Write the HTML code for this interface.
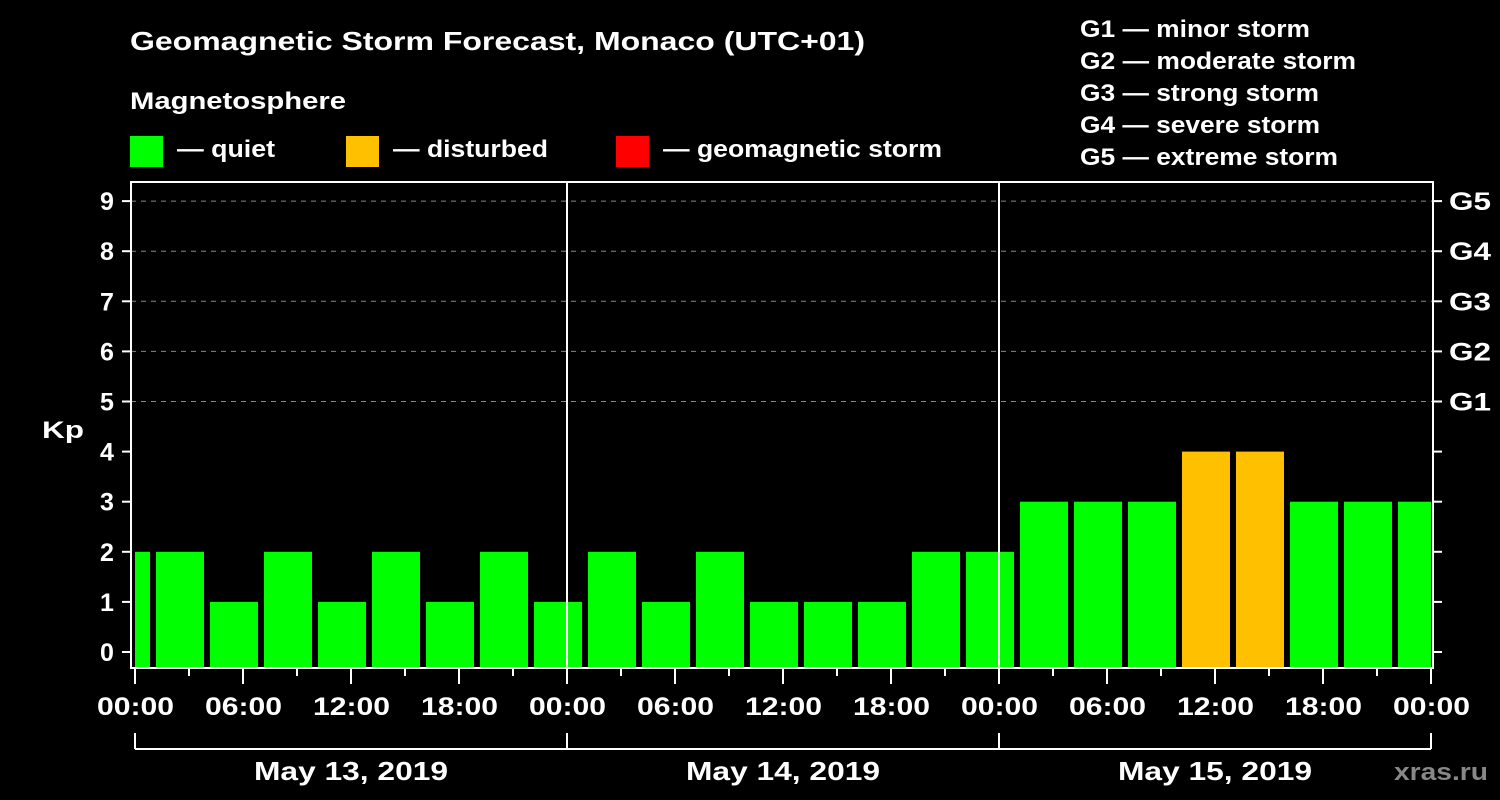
<!DOCTYPE html>
<html><head><meta charset="utf-8">
<style>
html,body{margin:0;padding:0;background:#000;}
svg{display:block;font-family:"Liberation Sans",sans-serif;font-weight:bold;}
</style></head>
<body>
<svg id="c" width="1500" height="800" viewBox="0 0 1500 800">
<rect x="0" y="0" width="1500" height="800" fill="#000"/>
<text x="130" y="50" fill="#fff" font-size="26" textLength="735" lengthAdjust="spacingAndGlyphs">Geomagnetic Storm Forecast, Monaco (UTC+01)</text>
<text x="130" y="109" fill="#fff" font-size="24" textLength="216" lengthAdjust="spacingAndGlyphs">Magnetosphere</text>
<g><rect x="130" y="136" width="33" height="31" fill="#00ff00"/><text x="177" y="157" fill="#fff" font-size="24" textLength="98" lengthAdjust="spacingAndGlyphs">— quiet</text></g>
<g><rect x="346" y="136" width="33" height="31" fill="#ffc000"/><text x="393" y="157" fill="#fff" font-size="24" textLength="155" lengthAdjust="spacingAndGlyphs">— disturbed</text></g>
<g><rect x="616" y="136" width="33" height="31" fill="#ff0000"/><text x="663" y="157" fill="#fff" font-size="24" textLength="279" lengthAdjust="spacingAndGlyphs">— geomagnetic storm</text></g>
<g fill="#fff" font-size="24">
<text x="1080" y="37" textLength="230" lengthAdjust="spacingAndGlyphs">G1 — minor storm</text>
<text x="1080" y="69" textLength="276" lengthAdjust="spacingAndGlyphs">G2 — moderate storm</text>
<text x="1080" y="101" textLength="239" lengthAdjust="spacingAndGlyphs">G3 — strong storm</text>
<text x="1080" y="133" textLength="240" lengthAdjust="spacingAndGlyphs">G4 — severe storm</text>
<text x="1080" y="165" textLength="258" lengthAdjust="spacingAndGlyphs">G5 — extreme storm</text>
</g>
<text x="42" y="438" fill="#fff" font-size="24" textLength="42" lengthAdjust="spacingAndGlyphs">Kp</text>
<text x="1394" y="780" fill="#888" font-size="24" textLength="94" lengthAdjust="spacingAndGlyphs">xras.ru</text>
<g id="plot"></g>
</svg>
<script>
const kpValues = [2,2,1,2,1,2,1,2,1, 2,1,2,1,1,1,2,2, 3,3,3,4,4,3,3,3];
const firstBarStartHour = -2;
const barHours = 3;
const kpTicks = [0,1,2,3,4,5,6,7,8,9];
const gLabels = ["G1","G2","G3","G4","G5"];
const timeLabels = ["00:00","06:00","12:00","18:00","00:00","06:00","12:00","18:00","00:00","06:00","12:00","18:00","00:00"];
const dayLabels = ["May 13, 2019","May 14, 2019","May 15, 2019"];

const NS = "http://www.w3.org/2000/svg";
const plot = document.getElementById("plot");
const X0 = 135, PXH = 18, Y0 = 652, PXK = 50.1;
const pleft = 131, pright = 1433, ptop = 182, pbottom = 668;
const xh = h => X0 + h * PXH;
const yk = k => Y0 - k * PXK;
function mk(tag, attrs, parent) {
  const e = document.createElementNS(NS, tag);
  for (const k in attrs) e.setAttribute(k, attrs[k]);
  (parent || plot).appendChild(e);
  return e;
}
const defs = mk("defs", {});
const cp = mk("clipPath", {id: "pc"}, defs);
mk("rect", {x: X0, y: ptop, width: xh(72) - X0, height: pbottom - ptop}, cp);
for (let k = 5; k <= 9; k++) {
  const g = mk("line", {x1: pleft, x2: pright, y1: yk(k), y2: yk(k), stroke: "#888", "stroke-width": 1, "stroke-dasharray": "5,5"});
  
  
}
const bg = mk("g", {"clip-path": "url(#pc)"});
kpValues.forEach((v, i) => {
  const s = firstBarStartHour + i * barHours;
  const x = xh(s) + 3, w = barHours * PXH - 6;
  const r = mk("rect", {x: x, y: yk(v), width: w, height: pbottom - yk(v), fill: v >= 5 ? "#ff0000" : (v >= 4 ? "#ffc000" : "#00ff00")}, bg);
  
  
});
for (let d = 1; d < dayLabels.length; d++) {
  mk("line", {x1: xh(24 * d), x2: xh(24 * d), y1: ptop, y2: pbottom, stroke: "#fff", "stroke-width": 2});
}
const fr = mk("rect", {x: pleft, y: ptop, width: pright - pleft, height: pbottom - ptop, fill: "none", stroke: "#fff", "stroke-width": 2});


kpTicks.forEach(k => {
  mk("line", {x1: 122, x2: pleft, y1: yk(k), y2: yk(k), stroke: "#fff", "stroke-width": 2});
  mk("line", {x1: pright, x2: 1442, y1: yk(k), y2: yk(k), stroke: "#fff", "stroke-width": 2});
  const t = mk("text", {x: 107, y: yk(k) + 9, fill: "#fff", "font-size": 25, "text-anchor": "middle"});
  t.textContent = k;
  
  
});
gLabels.forEach((g, i) => {
  const t = mk("text", {x: 1449, y: yk(5 + i) + 9, fill: "#fff", "font-size": 25, textLength: 42, lengthAdjust: "spacingAndGlyphs"});
  t.textContent = g;
  
  
});
for (let h = 0; h <= 72; h += 3) {
  const len = h % 6 === 0 ? 16 : 8;
  mk("line", {x1: xh(h), x2: xh(h), y1: pbottom, y2: pbottom + len, stroke: "#fff", "stroke-width": 2});
}
timeLabels.forEach((l, i) => {
  const t = mk("text", {x: xh(i * 6) - 38, y: 715, fill: "#fff", "font-size": 25, textLength: 77, lengthAdjust: "spacingAndGlyphs"});
  t.textContent = l;
  
  
});
mk("line", {x1: xh(0), x2: xh(72), y1: 749, y2: 749, stroke: "#fff", "stroke-width": 2});
for (let d = 0; d <= dayLabels.length; d++) {
  mk("line", {x1: xh(24 * d), x2: xh(24 * d), y1: 733, y2: 749, stroke: "#fff", "stroke-width": 2});
}
dayLabels.forEach((l, i) => {
  const t = mk("text", {x: xh(24 * i + 12) - 97, y: 780, fill: "#fff", "font-size": 26, textLength: 194, lengthAdjust: "spacingAndGlyphs"});
  t.textContent = l;
  
  
});
</script>
</body></html>
